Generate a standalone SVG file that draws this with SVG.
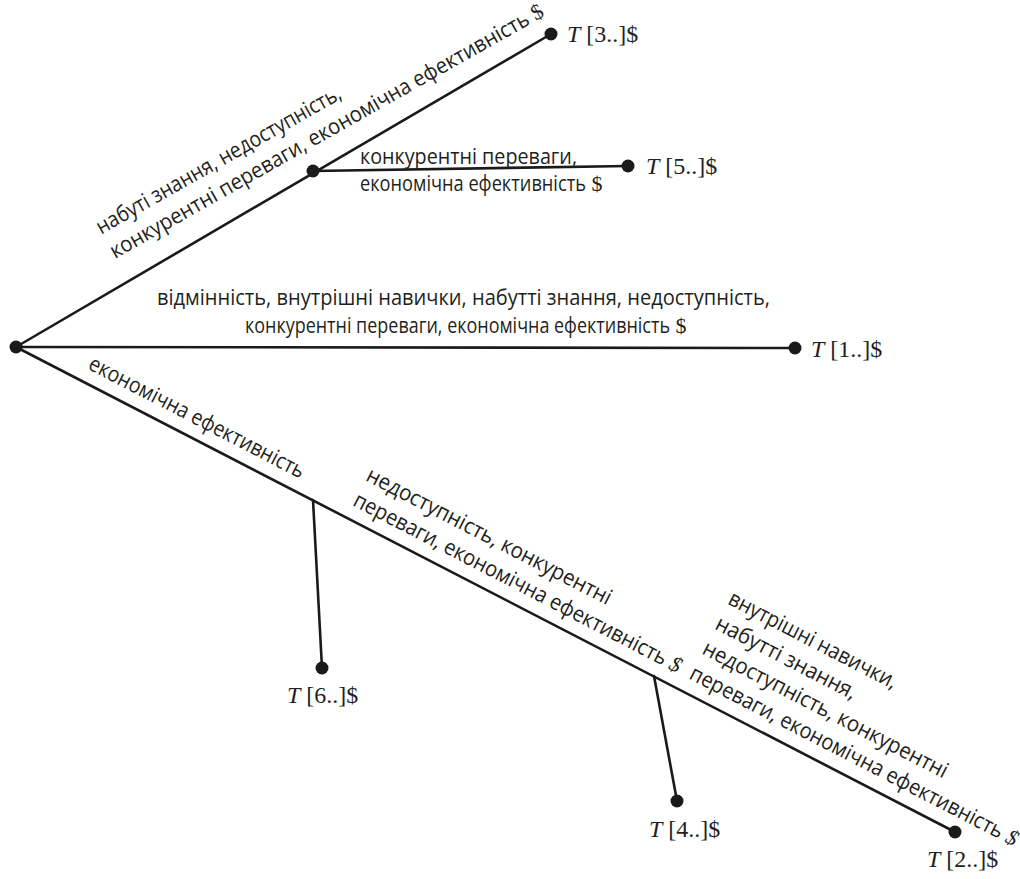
<svg xmlns="http://www.w3.org/2000/svg" width="1020" height="879" viewBox="0 0 1020 879">
<style>
.ln{stroke:#1a1a1a;stroke-width:2.6;fill:none;stroke-linecap:round}
.dot{fill:#1a1a1a}
.lb{font-family:"Open Sans","Noto Sans",sans-serif;font-size:22px;fill:#231f20}
.t{font-family:"Liberation Serif","Times New Roman",serif;font-size:24px;fill:#231f20}
.i{font-style:italic}
.d{font-family:"Liberation Serif","Times New Roman",serif}
</style>
<rect width="1020" height="879" fill="#fff"/>
<g id="connectors">
<line class="ln" x1="16" y1="347" x2="551" y2="34"/>
<line class="ln" x1="313" y1="171" x2="628" y2="166"/>
<line class="ln" x1="16" y1="347" x2="795" y2="348"/>
<line class="ln" x1="16" y1="347" x2="955" y2="832"/>
<line class="ln" x1="313" y1="500" x2="322" y2="668"/>
<line class="ln" x1="654" y1="676" x2="677" y2="801"/>
</g>
<g id="edge-labels">
<text class="lb" transform="translate(115,259) rotate(-29.5)"><tspan x="0" y="-28" textLength="278" lengthAdjust="spacingAndGlyphs">набуті знання, недоступність,</tspan><tspan x="0" y="0" textLength="478" lengthAdjust="spacingAndGlyphs">конкурентні переваги, економічна ефективність</tspan><tspan class="d"> $</tspan></text>
<text class="lb"><tspan x="360" y="164" textLength="217" lengthAdjust="spacingAndGlyphs">конкурентні переваги,</tspan><tspan x="360" y="191" textLength="226" lengthAdjust="spacingAndGlyphs">економічна ефективність</tspan><tspan class="d"> $</tspan></text>
<text class="lb"><tspan x="157" y="305" textLength="613" lengthAdjust="spacingAndGlyphs">відмінність, внутрішні навички, набутті знання, недоступність,</tspan><tspan x="245" y="333" textLength="425" lengthAdjust="spacingAndGlyphs">конкурентні переваги, економічна ефективність</tspan><tspan class="d"> $</tspan></text>
<text class="lb" transform="translate(87,368.6) rotate(27.34)" textLength="240" lengthAdjust="spacingAndGlyphs">економічна ефективність</text>
<text class="lb" transform="translate(351.8,504.9) rotate(27.34)"><tspan x="0" y="-28" textLength="273" lengthAdjust="spacingAndGlyphs">недоступність, конкурентні</tspan><tspan x="0" y="0" textLength="350" lengthAdjust="spacingAndGlyphs">переваги, економічна ефективність</tspan><tspan class="d i"> $</tspan></text>
<text class="lb" transform="translate(688.1,678.2) rotate(27.34)"><tspan x="0" y="-84" textLength="187" lengthAdjust="spacingAndGlyphs">внутрішні навички,</tspan><tspan x="0" y="-56" textLength="156" lengthAdjust="spacingAndGlyphs">набутті знання,</tspan><tspan x="0" y="-28" textLength="273" lengthAdjust="spacingAndGlyphs">недоступність, конкурентні</tspan><tspan x="0" y="0" textLength="350" lengthAdjust="spacingAndGlyphs">переваги, економічна ефективність</tspan><tspan class="d i"> $</tspan></text>
</g>
<g id="root"><circle class="dot" cx="16" cy="347" r="6.5"/></g>
<g id="mid"><circle class="dot" cx="313" cy="171" r="6.5"/></g>
<g id="T3"><circle class="dot" cx="551" cy="34" r="6.5"/><text class="t" x="567" y="42"><tspan class="i">T</tspan> [3..]$</text></g>
<g id="T5"><circle class="dot" cx="628" cy="166" r="6.5"/><text class="t" x="646" y="174"><tspan class="i">T</tspan> [5..]$</text></g>
<g id="T1"><circle class="dot" cx="795" cy="348" r="6.5"/><text class="t" x="811" y="357"><tspan class="i">T</tspan> [1..]$</text></g>
<g id="T6"><circle class="dot" cx="322" cy="668" r="6.5"/><text class="t" x="287" y="703"><tspan class="i">T</tspan> [6..]$</text></g>
<g id="T4"><circle class="dot" cx="677" cy="801" r="6.5"/><text class="t" x="649" y="837"><tspan class="i">T</tspan> [4..]$</text></g>
<g id="T2"><circle class="dot" cx="955" cy="832" r="6.5"/><text class="t" x="927" y="867"><tspan class="i">T</tspan> [2..]$</text></g>
</svg>
